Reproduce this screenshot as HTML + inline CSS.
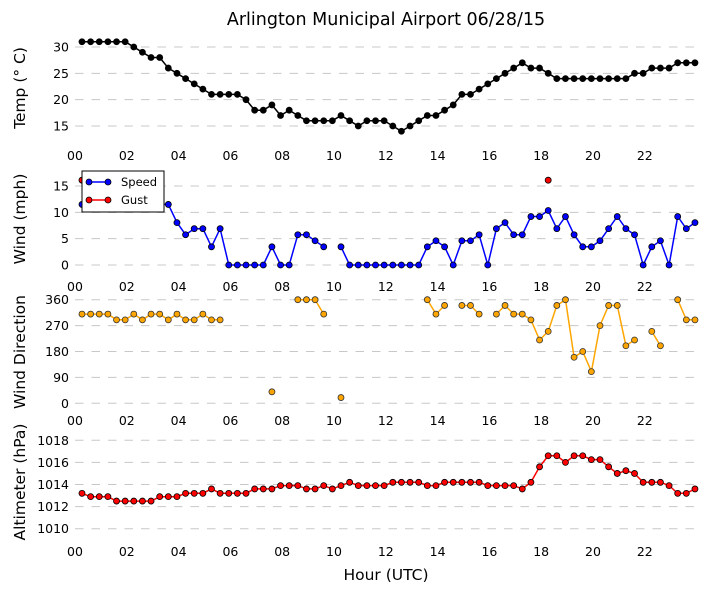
<!DOCTYPE html>
<html><head><meta charset="utf-8"><style>
body{margin:0;background:#fff;}
svg text{font-family:"DejaVu Sans","Liberation Sans",sans-serif;}
</style></head><body>
<svg id="chart" width="705" height="594" xmlns="http://www.w3.org/2000/svg">
<text x="386" y="25" font-size="17.5" text-anchor="middle">Arlington Municipal Airport 06/28/15</text>
<text x="386" y="580" font-size="15.5" text-anchor="middle">Hour (UTC)</text>
</svg>
<script>
const N = NaN;
const hourTicks = ["00","02","04","06","08","10","12","14","16","18","20","22"];
const temp = [31,31,31,31,31,31,30,29,28,28,26,25,24,23,22,21,21,21,21,20,18,18,19,17,18,17,16,16,16,16,17,16,15,16,16,16,15,14,15,16,17,17,18,19,21,21,22,23,24,25,26,27,26,26,25,24,24,24,24,24,24,24,24,24,25,25,26,26,26,27,27,27];
const speed = [11.5,11.5,11.5,11.5,11.5,11.5,11.5,11.5,11.5,11.5,11.5,8.05,5.75,6.9,6.9,3.45,6.9,0,0,0,0,0,3.45,0,0,5.75,5.75,4.6,3.45,N,3.45,0,0,0,0,0,0,0,0,0,3.45,4.6,3.45,0,4.6,4.6,5.75,0,6.9,8.05,5.75,5.75,9.2,9.2,10.35,6.9,9.2,5.75,3.45,3.45,4.6,6.9,9.2,6.9,5.75,0,3.45,4.6,0,9.2,6.9,8.05];
const gustIdx = [0,54];
const gustVal = [16.1,16.1];
const dir = [310,310,310,310,290,290,310,290,310,310,290,310,290,290,310,290,290,N,N,N,N,N,40,N,N,360,360,360,310,N,20,N,N,N,N,N,N,N,N,N,360,310,340,N,340,340,310,N,310,340,310,310,290,220,250,340,360,160,180,110,270,340,340,200,220,N,250,200,N,360,290,290];
const alt = [1013.2,1012.9,1012.9,1012.9,1012.5,1012.5,1012.5,1012.5,1012.5,1012.9,1012.9,1012.9,1013.2,1013.2,1013.2,1013.6,1013.2,1013.2,1013.2,1013.2,1013.6,1013.6,1013.6,1013.9,1013.9,1013.9,1013.6,1013.6,1013.9,1013.6,1013.9,1014.2,1013.9,1013.9,1013.9,1013.9,1014.2,1014.2,1014.2,1014.2,1013.9,1013.9,1014.2,1014.2,1014.2,1014.2,1014.2,1013.9,1013.9,1013.9,1013.9,1013.6,1014.2,1015.6,1016.6,1016.6,1016.0,1016.6,1016.6,1016.25,1016.25,1015.6,1015.0,1015.25,1015.0,1014.2,1014.2,1014.2,1013.9,1013.2,1013.2,1013.6];
const tempTicks = [15,20,25,30];
const windTicks = [0,5,10,15];
const dirTicks = [0,90,180,270,360];
const altTicks = [1010,1012,1014,1016,1018];

const svg = document.getElementById('chart');
const NS = 'http://www.w3.org/2000/svg';
const X0 = 75, PXH = 25.9;
function xh(h){return X0 + h*PXH;}
function tOf(i){return 0.27 + i/3;}
function mk(tag, attrs){const e=document.createElementNS(NS,tag);for(const k in attrs)e.setAttribute(k,attrs[k]);svg.appendChild(e);return e;}

function panel(name, ylab, labY, ticks, v0, y0, v1, y1, xTickY, series){
  const ys = v => y0 + (v - v0)*(y1 - y0)/(v1 - v0);
  ticks.forEach(t=>{
    const g = mk('line',{x1:75,x2:694,y1:ys(t),y2:ys(t),stroke:'#c8c8c8','stroke-dasharray':'8.5,8','stroke-width':1});
    
    
    const tl = mk('text',{x:69,y:ys(t)+4.5,'font-size':12.5,'text-anchor':'end'});
    tl.textContent = t;
    
    
  });
  hourTicks.forEach((lab,j)=>{
    const tl = mk('text',{x:xh(j*2),y:xTickY,'font-size':12.5,'text-anchor':'middle'});
    tl.textContent = lab;
    
    
  });
  const yl = mk('text',{x:0,y:0,'font-size':15.5,'text-anchor':'middle',transform:`translate(25,${labY}) rotate(-90)`});
  yl.textContent = ylab;
  
  
  series.forEach(s=>{
    if(s.line){
      let d='', pen=false;
      s.vals.forEach((v,i)=>{
        if(isNaN(v)){pen=false;return;}
        d += (pen?'L':'M') + xh(tOf(s.idx?s.idx[i]:i)).toFixed(1)+','+ys(v).toFixed(1);
        pen=true;
      });
      const p = mk('path',{d:d,fill:'none',stroke:s.color,'stroke-width':1.5});
      
      
    }
    s.vals.forEach((v,i)=>{
      if(isNaN(v))return;
      const c = mk('circle',{cx:xh(tOf(s.idx?s.idx[i]:i)),cy:ys(v),r:3,fill:s.color,stroke:s.edge,'stroke-width':0.8});
      
      
    });
  });
}
panel('temp','Temp (° C)',88,tempTicks,15,126,30,47,160,[{name:'temp',vals:temp,color:'#000',edge:'#000',line:true}]);
panel('wind','Wind (mph)',219,windTicks,0,265,15,186,291,[{name:'speed',vals:speed,color:'#0000ff',edge:'#000',line:true},{name:'gust',vals:gustVal,idx:gustIdx,color:'#ff0000',edge:'#000',line:false}]);
panel('direction','Wind Direction',352,dirTicks,0,403.3,360,299.7,425,[{name:'direction',vals:dir,color:'#ffa500',edge:'#333',line:true}]);
panel('altimeter','Altimeter (hPa)',482,altTicks,1010,528.7,1018,440.3,556,[{name:'altimeter',vals:alt,color:'#ff0000',edge:'#000',line:true}]);

const lg = mk('rect',{x:82,y:171,width:82,height:41,fill:'#fff',stroke:'#000','stroke-width':1});


[['Speed','#0000ff',182],['Gust','#ff0000',200]].forEach(([lab,col,y])=>{
  const l = mk('line',{x1:89,x2:108,y1:y,y2:y,stroke:col,'stroke-width':1.5});
  
  
  [89,108].forEach(cx=>{
    const c = mk('circle',{cx:cx,cy:y,r:3,fill:col,stroke:'#000','stroke-width':0.8});
    
    
  });
  const t = mk('text',{x:121,y:y+4,'font-size':11.5});
  t.textContent = lab;
  
  
});
</script>
</body></html>
